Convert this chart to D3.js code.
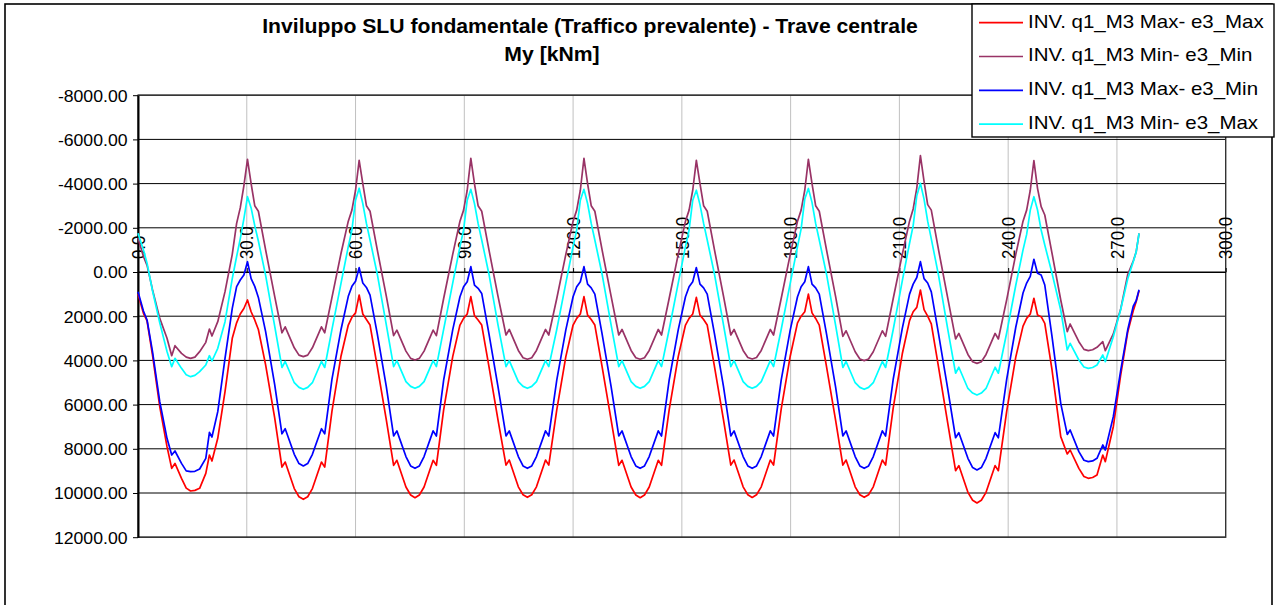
<!DOCTYPE html>
<html>
<head>
<meta charset="utf-8">
<script src="https://cdn.jsdelivr.net/npm/d3@7"></script>
<style>
  html, body { margin: 0; padding: 0; background: #fff; }
  svg { display: block; }
  text { font-family: "Liberation Sans", Arial, Helvetica, sans-serif; fill: #000; }
</style>
</head>
<body>
<svg id="chart" width="1276" height="605"></svg>
<script>
// Abscissa of the sampled sections along the beam (one row per span)
const positions = [
  0, 1.5, 2.5, 4, 6, 8, 9.3, 10.2, 12, 13.3, 14.5, 15.7, 17, 18.7, 19.7, 20.4, 22, 24, 26, 27.2, 28.2, 29.2, 30.2,
  31.2, 32.2, 33.2, 35.2, 37.7, 39.7, 40.6, 43.1, 44.4, 45.6, 46.8, 48.1, 50.6, 51.5, 53.5, 56.0, 58.0, 59.0, 60.0, 61.0,
  62.0, 63.0, 64.0, 66.0, 68.5, 70.5, 71.4, 73.9, 75.2, 76.4, 77.6, 78.9, 81.4, 82.3, 84.3, 86.8, 88.8, 89.8, 90.8, 91.8,
  92.8, 93.8, 94.8, 96.8, 99.3, 101.5, 102.4, 104.9, 106.2, 107.4, 108.6, 109.9, 112.4, 113.3, 115.5, 118.0, 120.0, 121.0, 122.0, 123.0,
  124.0, 125.0, 126.0, 128.0, 130.5, 132.6, 133.5, 136.0, 137.3, 138.5, 139.7, 141.0, 143.5, 144.4, 146.5, 149.0, 151.0, 152.0, 153.0, 154.0,
  155.0, 156.0, 157.0, 159.0, 161.5, 163.5, 164.4, 166.9, 168.2, 169.4, 170.6, 171.9, 174.4, 175.3, 177.4, 179.9, 181.9, 182.9, 183.9, 184.9,
  185.9, 186.9, 187.9, 189.9, 192.4, 194.4, 195.3, 197.8, 199.1, 200.3, 201.5, 202.8, 205.3, 206.2, 208.3, 210.8, 212.8, 213.8, 214.8, 215.8,
  216.8, 217.8, 218.8, 220.8, 223.3, 225.5, 226.4, 228.9, 230.2, 231.4, 232.6, 233.9, 236.4, 237.3, 239.6, 242.1, 244.1, 245.1, 246.1, 247.1,
  248.1, 249.1, 250.1, 252.1, 254.5, 256.3, 257.1, 259.5, 260.9, 262.1, 263.3, 264.5, 266.1, 266.8, 269.0, 271.0, 273.0, 274.5, 275.3, 276.1
];

// INV. q1_M3 Max- e3_Max  [kNm]
const maxE3Max = [
  1000, 1870, 2217, 3756, 6094, 7904, 8884, 8658, 9336, 9780, 9910, 9880, 9789, 9110, 8281, 8552, 7526, 5415, 3002, 2300, 1900, 1650, 1267,
  1800, 2170, 2600, 4200, 6600, 8830, 8600, 9800, 10170, 10287, 10170, 9800, 8600, 8830, 6300, 3800, 2400, 2050, 1850, 1041,
  1900, 2150, 2400, 4280, 6700, 8750, 8520, 9730, 10090, 10211, 10090, 9730, 8520, 8750, 6240, 3830, 2400, 2100, 1900, 1116,
  1975, 2170, 2400, 4280, 6700, 8740, 8510, 9720, 10080, 10196, 10080, 9720, 8510, 8740, 6240, 3830, 2400, 2100, 1900, 1116,
  1950, 2150, 2400, 4280, 6700, 8750, 8520, 9730, 10090, 10211, 10090, 9730, 8520, 8750, 6240, 3830, 2400, 2100, 1900, 1150,
  1950, 2150, 2400, 4280, 6700, 8740, 8510, 9720, 10080, 10200, 10080, 9720, 8510, 8740, 6200, 3800, 2300, 2000, 1800, 1000,
  1850, 2100, 2400, 4280, 6700, 8740, 8510, 9720, 10080, 10196, 10080, 9720, 8510, 8740, 6150, 3700, 2200, 1800, 1600, 814,
  1700, 2000, 2350, 4300, 6800, 8990, 8760, 9970, 10330, 10450, 10330, 9970, 8760, 8990, 6300, 3850, 2450, 2100, 1900, 1190,
  1946, 2021, 2322, 4434, 7451, 8235, 8054, 8884, 9250, 9336, 9300, 9186, 8281, 8582, 7000, 4700, 2700, 1750, 1350, 850
];

// INV. q1_M3 Min- e3_Min  [kNm]
const minE3Min = [
  -1550, -700, -300, 800, 2100, 3000, 3786, 3334, 3680, 3850, 3906, 3850, 3605, 3183, 2579, 2896, 2248, 890, -800, -2200, -2900, -3900, -5100,
  -4000, -3000, -2750, -1000, 1100, 2750, 2480, 3430, 3760, 3831, 3760, 3430, 2480, 2750, 1150, -850, -2300, -2800, -3700, -5050,
  -4000, -3000, -2750, -1000, 1100, 2880, 2630, 3580, 3910, 3982, 3910, 3580, 2630, 2880, 1200, -800, -2300, -2800, -3700, -5145,
  -4000, -3000, -2750, -1000, 1100, 2850, 2600, 3550, 3880, 3950, 3880, 3550, 2600, 2850, 1200, -800, -2300, -2800, -3700, -5145,
  -4000, -3000, -2750, -1000, 1100, 2850, 2600, 3550, 3880, 3950, 3880, 3550, 2600, 2850, 1200, -800, -2300, -2800, -3700, -5050,
  -4000, -3000, -2750, -1000, 1100, 2850, 2600, 3550, 3870, 3940, 3870, 3550, 2600, 2850, 1200, -800, -2300, -2800, -3700, -5100,
  -4000, -3000, -2750, -1000, 1100, 2910, 2660, 3610, 3940, 4012, 3940, 3610, 2660, 2910, 1200, -800, -2300, -2850, -3800, -5270,
  -4100, -3050, -2800, -1000, 1150, 3030, 2780, 3730, 4060, 4133, 4060, 3730, 2780, 3030, 1250, -800, -2300, -2800, -3700, -5040,
  -3786, -2955, -2579, -845, 1267, 2700, 2353, 3152, 3500, 3560, 3520, 3409, 3152, 3560, 2800, 1700, 100, -500, -900, -1750
];

// INV. q1_M3 Max- e3_Min  [kNm]
const maxE3Min = [
  890, 1765, 2172, 3605, 5867, 7526, 8281, 8100, 8658, 9000, 9035, 9020, 8914, 8431, 7255, 7466, 6320, 3906, 1644, 664, 362, 136, -466,
  300, 650, 1150, 2700, 5100, 7320, 7090, 8250, 8670, 8778, 8670, 8250, 7090, 7320, 4850, 2600, 1100, 650, 420, -195,
  500, 700, 1050, 2800, 5200, 7420, 7190, 8350, 8775, 8884, 8775, 8350, 7190, 7420, 4890, 2620, 1120, 670, 440, -240,
  590, 740, 970, 2800, 5200, 7420, 7190, 8350, 8775, 8884, 8775, 8350, 7190, 7420, 4890, 2620, 1120, 670, 440, -240,
  550, 720, 1000, 2800, 5200, 7420, 7190, 8350, 8775, 8884, 8775, 8350, 7190, 7420, 4890, 2620, 1120, 670, 440, -200,
  550, 720, 1000, 2800, 5200, 7420, 7190, 8350, 8775, 8884, 8775, 8350, 7190, 7420, 4890, 2620, 1120, 670, 440, -240,
  550, 720, 1000, 2800, 5200, 7420, 7190, 8350, 8775, 8884, 8775, 8350, 7190, 7420, 4850, 2550, 1000, 550, 250, -466,
  300, 500, 900, 2800, 5250, 7500, 7270, 8430, 8850, 8959, 8850, 8430, 7270, 7500, 4850, 2500, 950, 500, 200, -575,
  60, 136, 588, 2926, 5943, 7350, 7150, 8130, 8520, 8582, 8550, 8431, 7828, 8054, 6546, 4500, 2600, 1550, 1300, 800
];

// INV. q1_M3 Min- e3_Max  [kNm]
const minE3Max = [
  -1750, -1000, -400, 850, 2300, 3600, 4284, 3906, 4360, 4650, 4736, 4680, 4510, 4208, 3786, 4027, 3454, 2248, 300, -700, -1500, -2400, -3407,
  -2900, -2100, -1400, 150, 2450, 4320, 4050, 5010, 5220, 5309, 5220, 5010, 4050, 4320, 2600, 500, -1150, -1900, -3250, -3790,
  -3100, -2200, -1450, 100, 2400, 4280, 4010, 4960, 5175, 5264, 5175, 4960, 4010, 4280, 2600, 500, -1150, -1900, -3250, -3740,
  -3100, -2200, -1450, 100, 2400, 4280, 4010, 4960, 5175, 5264, 5175, 4960, 4010, 4280, 2600, 500, -1150, -1900, -3250, -3740,
  -3100, -2200, -1450, 100, 2400, 4280, 4010, 4960, 5175, 5264, 5175, 4960, 4010, 4280, 2600, 500, -1150, -1900, -3250, -3700,
  -3050, -2200, -1450, 100, 2400, 4280, 4010, 4960, 5175, 5264, 5175, 4960, 4010, 4280, 2600, 500, -1150, -1950, -3300, -3780,
  -3150, -2200, -1450, 100, 2400, 4320, 4050, 5010, 5220, 5309, 5220, 5010, 4050, 4320, 2600, 400, -1300, -2100, -3450, -4010,
  -3300, -2300, -1500, 150, 2550, 4580, 4310, 5270, 5476, 5566, 5476, 5270, 4310, 4580, 2750, 600, -1000, -1700, -2800, -3407,
  -2805, -1900, -1222, 60, 1719, 3529, 3228, 3982, 4300, 4359, 4320, 4208, 3756, 4057, 2926, 1719, 300, -466, -900, -1750
];

const seriesNames = [
  "INV. q1_M3 Max- e3_Max",
  "INV. q1_M3 Min- e3_Min",
  "INV. q1_M3 Max- e3_Min",
  "INV. q1_M3 Min- e3_Max"
];
const seriesValues = [maxE3Max, minE3Min, maxE3Min, minE3Max];
const seriesColors = ["#ff0000", "#993366", "#0000ff", "#00ffff"];

const xTickValues = [0, 30, 60, 90, 120, 150, 180, 210, 240, 270, 300];
const yTickValues = [-8000, -6000, -4000, -2000, 0, 2000, 4000, 6000, 8000, 10000, 12000];

const titleLines = ["Inviluppo SLU fondamentale (Traffico prevalente) - Trave centrale", "My [kNm]"];

// ---- layout ----
const plot = { left: 138, top: 95.2, right: 1225.7, bottom: 537.2 };
const stretch = 1.05;   // glyphs in this chart are set slightly wide

const svg = d3.select("#chart");

const x = d3.scaleLinear().domain([0, 300]).range([plot.left, plot.right]);
const y = d3.scaleLinear().domain([-8000, 12000]).range([plot.top, plot.bottom]);

// chart area frame
svg.append("rect")
  .attr("x", 5).attr("y", 4).attr("width", 1267).attr("height", 640)
  .attr("fill", "#fff").attr("stroke", "#000").attr("stroke-width", 1.6);

// vertical grid
svg.append("g").selectAll("line")
  .data(xTickValues.filter(v => v > 0 && v < 300))
  .join("line")
  .attr("x1", d => x(d)).attr("x2", d => x(d))
  .attr("y1", plot.top).attr("y2", plot.bottom)
  .attr("stroke", "#c0c0c0").attr("stroke-width", 1);

// horizontal grid
svg.append("g").selectAll("line")
  .data(yTickValues)
  .join("line")
  .attr("x1", plot.left).attr("x2", plot.right)
  .attr("y1", d => y(d)).attr("y2", d => y(d))
  .attr("stroke", "#000").attr("stroke-width", 1);

// plot area frame
svg.append("rect")
  .attr("x", plot.left).attr("y", plot.top)
  .attr("width", plot.right - plot.left).attr("height", plot.bottom - plot.top)
  .attr("fill", "none").attr("stroke", "#333").attr("stroke-width", 1.4);

// value axis (reversed: hogging moments up)
const yAxis = svg.append("g")
  .attr("transform", `translate(${plot.left},0)`)
  .call(d3.axisLeft(y).tickValues(yTickValues).tickFormat(v => v.toFixed(2))
    .tickSize(5).tickSizeOuter(0).tickPadding(5));
yAxis.select(".domain").attr("stroke", "#000").attr("stroke-width", 2);
yAxis.selectAll(".tick line").attr("stroke", "#000");
yAxis.selectAll("text")
  .attr("font-size", "16.8px")
  .attr("font-family", '"Liberation Sans", Arial, sans-serif')
  .attr("fill", "#000")
  .attr("dy", "0.35em")
  .attr("transform", `scale(${stretch},1)`);

// abscissa axis crossing at zero
const xAxis = svg.append("g")
  .attr("transform", `translate(0,${y(0)})`)
  .call(d3.axisTop(x).tickValues(xTickValues).tickFormat(v => v.toFixed(1))
    .tickSize(4).tickSizeOuter(0));
xAxis.select(".domain").attr("stroke", "#000").attr("stroke-width", 1);
xAxis.selectAll(".tick line").attr("stroke", "#000");
xAxis.selectAll("text")
  .attr("font-size", "16.8px")
  .attr("font-family", '"Liberation Sans", Arial, sans-serif')
  .attr("fill", "#000")
  .attr("text-anchor", "start")
  .attr("x", 13).attr("y", 0).attr("dy", "0.35em")
  .attr("transform", `scale(${stretch},1) rotate(-90)`);

// envelope curves
const line = d3.line()
  .x((d, i) => x(positions[i]))
  .y(d => y(d));

svg.append("g").selectAll("path")
  .data(seriesValues)
  .join("path")
  .attr("d", d => line(d))
  .attr("fill", "none")
  .attr("stroke", (d, i) => seriesColors[i])
  .attr("stroke-width", 1.7)
  .attr("stroke-linejoin", "round");

// title
const titleX = [590, 552];
svg.append("g").selectAll("text")
  .data(titleLines)
  .join("text")
  .attr("transform", (d, i) => `translate(${titleX[i]},${33.3 + i * 27.5}) scale(1.07,1)`)
  .attr("text-anchor", "middle")
  .attr("font-size", "19.8px")
  .attr("font-weight", "bold")
  .text(d => d);

// legend
const legend = svg.append("g");
legend.append("rect")
  .attr("x", 972).attr("y", 4).attr("width", 302).attr("height", 133)
  .attr("fill", "#fff").attr("stroke", "#000").attr("stroke-width", 1.4);
const rows = legend.selectAll("g.row")
  .data(seriesNames)
  .join("g").attr("class", "row")
  .attr("transform", (d, i) => `translate(0,${i * 33.8})`);
rows.append("line")
  .attr("x1", 979).attr("x2", 1023)
  .attr("y1", 22.7).attr("y2", 22.7)
  .attr("stroke", (d, i) => seriesColors[i])
  .attr("stroke-width", 1.7);
rows.append("text")
  .attr("transform", "translate(1028,27.5) scale(1.1,1)")
  .attr("font-size", "18.6px")
  .text(d => d);
</script>
</body>
</html>
